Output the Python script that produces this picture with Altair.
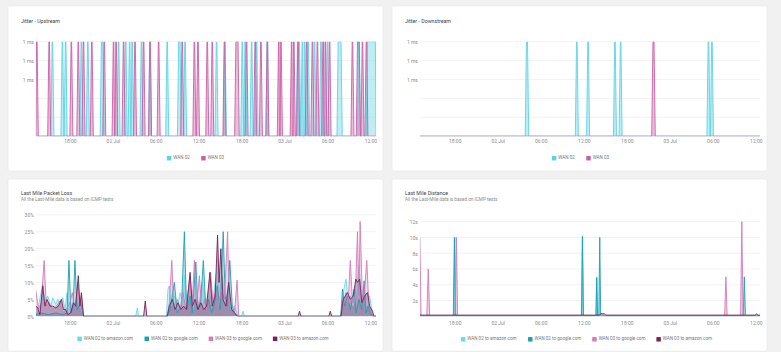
import altair as alt
import pandas as pd

BASE = pd.Timestamp("2024-07-01 00:00")

# ---------------- time axis (hours after 01 Jul 00:00) ----------------
LEFT_DOMAIN_H = [13.23, 60.8]
RIGHT_DOMAIN_H = [13.13, 60.6]
TIME_TICKS_H = [18, 24, 30, 36, 42, 48, 54, 60]

# ---------------- Jitter (ms) ----------------
JITTER_SERIES = ["WAN 02", "WAN 03"]
JITTER_COLORS = ["#5cd3e4", "#cb5ea7"]
JITTER_TICKS = [0, 0.2, 0.4, 0.6, 0.8, 1.0]
JITTER_PEAK_MS = 1.0
# spike times (hours); a tuple is a plateau (from, to)
UP_WAN02_SPIKES = [15.55, 16.95, 17.4, 19.6, 20.5, (22.4, 22.6), 24.8, 25.8, 26.35, 26.7,
                   28.0, 29.2, 31.6, (33.2, 33.4), 34.1, 38.5, 39.66, 42.1, 42.5, 43.4,
                   44.1, 45.6, (49.8, 50.1), 50.5, 50.8, 51.3, 52.2, 53.1, 54.0,
                   (55.5, 55.9), 58.4, (59.6, 60.7)]
UP_WAN03_SPIKES = [13.37, 15.1, 18.2, 19.17, 19.9, 21.06, 22.8, 24.1, 24.45, 25.5, 27.1,
                   28.3, 29.2, 30.4, 33.7, 35.4, 35.9, 37.2, 37.9, 39.6, (41.2, 41.5),
                   42.7, 43.9, 44.7, 45.6, 47.2, 47.5, 49.0, 49.3, 49.9, 51.1, 51.9,
                   52.6, 53.4, 53.7, 54.3, 57.5, (58.2, 58.45), 58.9, 59.45]
DOWN_WAN02_SPIKES = [(28.0, 28.15), 35.03, 36.6, 40.35, 41.14, (53.35, 53.45), 53.88]
DOWN_WAN03_SPIKES = [(45.65, 45.8)]
SPIKE_RAMP_H = 0.17
SPIKE_HALF_TOP_H = 0.04

# ---------------- Last mile ----------------
LAST_MILE_SERIES = ["WAN 02 to amazon.com", "WAN 02 to google.com",
                    "WAN 03 to google.com", "WAN 03 to amazon.com"]
LAST_MILE_COLORS = ["#6ad9e8", "#1aa0b1", "#d37ab7", "#7a1f55"]
SUBTITLE = "All the Last-Mile data is based on ICMP tests"

# packet loss (%), (hour, value)
LOSS_TICKS = [0, 5, 10, 15, 20, 25, 30]
LOSS_WAN02_AMAZON = [
    (13.23, 1), (13.6, 3), (14.2, 9.5), (14.5, 4), (14.9, 6), (15.3, 3), (15.6, 5.5),
    (16.0, 3.5), (16.3, 5), (16.7, 3), (17.0, 5.5), (17.3, 2), (17.6, 7), (18.0, 2),
    (18.4, 4), (18.8, 3), (19.2, 5), (19.6, 2), (19.9, 0), (27.2, 0), (27.42, 2.5),
    (27.6, 0), (31.5, 0), (31.7, 8), (31.9, 9), (32.2, 3), (32.6, 6), (33.0, 2),
    (33.4, 7), (33.8, 4), (34.0, 12), (34.4, 3), (34.8, 6), (35.2, 2), (35.6, 8),
    (36.0, 3), (36.5, 10), (37.0, 4), (37.5, 7), (38.0, 5), (38.73, 17), (38.9, 6),
    (39.3, 12), (39.7, 4), (40.1, 8), (40.5, 2), (41.0, 3), (41.5, 0), (42.0, 0),
    (42.2, 1.5), (42.4, 0), (55.8, 0), (56.1, 6), (56.6, 11), (56.9, 4), (57.2, 6),
    (57.6, 3), (58.0, 7), (58.4, 15), (58.8, 5), (59.1, 8), (59.5, 3), (59.9, 6),
    (60.3, 1), (60.5, 0), (60.8, 0)]
LOSS_WAN02_GOOGLE = [
    (13.23, 0.5), (14.0, 1), (15.0, 0.5), (16.0, 1), (17.0, 0.5), (17.6, 1), (17.86, 16.5),
    (18.15, 1), (18.45, 3), (18.7, 16.5), (19.0, 2), (19.5, 4), (19.9, 0), (31.6, 0),
    (32.0, 2), (32.6, 10), (33.0, 1), (33.6, 3), (34.0, 25), (34.3, 2), (34.8, 6),
    (35.1, 1), (35.6, 16), (35.9, 2), (36.3, 5), (36.65, 16.5), (37.0, 2), (37.4, 5),
    (37.8, 1), (38.2, 4), (38.6, 9), (39.0, 2), (39.43, 25), (39.7, 6), (40.0, 3),
    (40.35, 16.5), (40.7, 3), (41.0, 1), (41.5, 0), (55.9, 0), (56.1, 8), (56.4, 3),
    (56.8, 6), (57.2, 2), (57.74, 8), (58.0, 1), (58.4, 5), (58.8, 2), (59.13, 10.5),
    (59.4, 1), (59.7, 3), (60.0, 1), (60.3, 0), (60.8, 0)]
LOSS_WAN03_GOOGLE = [
    (13.23, 7.7), (13.6, 2), (14.0, 4), (14.39, 16.5), (14.7, 3), (15.1, 4), (15.6, 2),
    (16.1, 3), (16.6, 4.5), (17.0, 1), (17.5, 2), (18.0, 4), (18.33, 7), (18.7, 2),
    (19.1, 10), (19.4, 3), (19.6, 6), (19.9, 0), (31.6, 0), (31.9, 4), (32.24, 16.5),
    (32.5, 3), (33.0, 5), (33.4, 2), (33.8, 7), (34.2, 2), (34.79, 12), (35.1, 4),
    (35.4, 16.5), (35.7, 3), (36.1, 12), (36.4, 2), (36.8, 5), (37.1, 2), (37.66, 13),
    (38.0, 4), (38.4, 8), (38.8, 3), (39.2, 8), (39.6, 5), (40.04, 25), (40.3, 3),
    (40.7, 2), (41.0, 1), (41.37, 10.7), (41.6, 0), (55.8, 0), (56.2, 3), (56.6, 7),
    (56.9, 4), (57.2, 16.5), (57.5, 4), (57.9, 6), (58.2, 25), (58.4, 6), (58.57, 28),
    (58.9, 4), (59.2, 8), (59.5, 16.5), (59.8, 3), (60.1, 2), (60.4, 0), (60.8, 0)]
LOSS_WAN03_AMAZON = [
    (13.23, 3), (13.5, 2.5), (13.8, 0.5), (14.2, 9), (14.5, 3), (14.8, 5), (15.2, 3),
    (15.6, 3), (16.0, 2.5), (16.4, 3), (16.8, 5), (17.1, 2), (17.4, 2), (17.7, 0.5),
    (18.1, 1), (18.5, 4), (18.8, 3), (19.17, 12), (19.4, 3), (19.6, 7), (19.9, 0),
    (28.3, 0), (28.53, 4.5), (28.75, 0), (31.6, 0), (31.9, 3), (32.3, 5), (32.7, 2),
    (33.1, 4), (33.5, 2), (33.9, 3), (34.3, 2), (34.8, 13), (35.1, 3), (35.5, 5),
    (35.9, 2), (36.3, 4), (36.7, 2), (37.1, 3), (37.57, 13), (37.9, 3), (38.3, 6),
    (38.64, 24), (38.85, 10), (39.1, 20), (39.4, 5), (39.8, 3), (40.2, 10), (40.6, 2),
    (41.0, 1), (41.4, 0), (49.9, 0), (50.1, 1.5), (50.3, 0), (54.2, 0), (54.4, 1.5),
    (54.6, 0), (55.9, 0), (56.2, 5), (56.5, 6), (56.8, 7), (57.2, 5), (57.6, 6),
    (57.97, 11), (58.2, 10), (58.5, 11), (58.8, 4), (59.2, 6), (59.6, 7), (59.9, 3),
    (60.3, 1.5), (60.5, 0), (60.8, 0)]

# distance (s), (hour, value)
DIST_TICKS = [0, 2, 4, 6, 8, 10, 12]
DIST_TOP_S = 12.875
DIST_WAN02_AMAZON = [
    (13.13, 0.05), (17.85, 0.05), (18.0, 10), (18.15, 0.05), (35.65, 0.05), (35.8, 10.2),
    (35.97, 0.05), (37.68, 0.05), (37.8, 5), (37.93, 0.05), (38.3, 0.3), (38.6, 0.05),
    (60.6, 0.05)]
DIST_WAN02_GOOGLE = [
    (13.13, 0.08), (17.8, 0.08), (17.95, 10), (18.1, 0.08), (35.68, 0.08), (35.82, 10.1),
    (35.95, 0.08), (37.7, 0.08), (37.81, 4.9), (37.92, 0.08), (38.1, 0.08), (38.23, 10),
    (38.36, 0.08), (58.25, 0.08), (58.4, 5), (58.55, 0.08), (60.6, 0.08)]
DIST_WAN03_GOOGLE = [
    (13.13, 10), (13.3, 0.1), (14.1, 0.1), (14.3, 6), (14.5, 0.1), (18.05, 0.1),
    (18.23, 10), (18.4, 0.1), (55.65, 0.1), (55.83, 5), (56.0, 0.1), (57.88, 0.1),
    (58.05, 12), (58.22, 0.1), (60.6, 0.1)]
DIST_WAN03_AMAZON = [
    (13.13, 0.15), (38.2, 0.15), (38.4, 0.35), (38.9, 0.3), (39.1, 0.15), (59.9, 0.15),
    (60.1, 0.3), (60.3, 0.15), (60.6, 0.15)]

# ---------------- helpers ----------------
def ts(h):
    return BASE + pd.Timedelta(hours=h)


def dt(h):
    t = ts(h)
    return alt.DateTime(year=t.year, month=t.month, date=t.day,
                        hours=t.hour, minutes=t.minute, seconds=t.second)


def spike_points(spikes, dom):
    pts = [(dom[0], 0.0), (dom[1], 0.0)]
    for s in spikes:
        if isinstance(s, tuple):
            a, b = s
        else:
            a, b = s - SPIKE_HALF_TOP_H, s + SPIKE_HALF_TOP_H
        pts += [(a - SPIKE_RAMP_H, 0.0), (a, JITTER_PEAK_MS), (b, JITTER_PEAK_MS),
                (b + SPIKE_RAMP_H, 0.0)]
    return sorted(pts)


def frame(named_points):
    rows = []
    for name, pts in named_points:
        for h, v in pts:
            rows.append({"time": ts(h), "series": name, "value": v})
    return pd.DataFrame(rows)


TIME_LABEL_EXPR = ("hours(datum.value) == 0 ? timeFormat(datum.value, '%d %b') "
                   ": timeFormat(datum.value, '%H:%M')")
W = 342
GRID_COLOR = "#eeeeee"
FONT = "Roboto"


def panel(df, series, colors, dom_h, ticks, y_dom, y_expr, h, title, subtitle,
          lx, ly, fill_op, x_pad):
    x = alt.X("time:T", scale=alt.Scale(domain=[dt(dom_h[0]), dt(dom_h[1])]),
              axis=alt.Axis(values=[dt(t) for t in TIME_TICKS_H], labelExpr=TIME_LABEL_EXPR,
                            grid=False, domain=False, ticks=False, labelPadding=x_pad,
                            labelFlush=False, zindex=1, title=None))
    y_scale = alt.Scale(domain=y_dom)
    y_axis = alt.Axis(values=ticks, labelExpr=y_expr, grid=False, domain=False,
                      ticks=False, labelPadding=2.5, zindex=1, title=None)
    y = alt.Y("value:Q", stack=None, scale=y_scale, axis=y_axis)
    cscale = alt.Scale(domain=series, range=colors)
    one = pd.DataFrame({"k": [0]})
    card = alt.Chart(one).mark_rect(
        fill="white", stroke="#e6e6e6", strokeWidth=0.6, cornerRadius=2
    ).encode(x=alt.value(-28), x2=alt.value(W + 7), y=alt.value(-36), y2=alt.value(h + 35))
    grid = alt.Chart(pd.DataFrame({"value": ticks})).mark_rule(
        color=GRID_COLOR, strokeWidth=0.8
    ).encode(y=alt.Y("value:Q", scale=y_scale, axis=y_axis))
    area = alt.Chart(df).mark_area(opacity=fill_op, clip=True).encode(
        x=x, y=y,
        color=alt.Color("series:N", scale=cscale,
                        legend=alt.Legend(orient="none", legendX=lx, legendY=ly,
                                          direction="horizontal", title=None,
                                          symbolType="square", symbolOpacity=1,
                                          symbolStrokeWidth=0)))
    line = alt.Chart(df).mark_line(strokeWidth=0.9, clip=True).encode(
        x=x, y=y, color=alt.Color("series:N", scale=cscale, legend=None))
    layers = [card, grid, area, line]
    title_y = -21 if subtitle is None else -22
    layers.append(alt.Chart(one).mark_text(
        align="left", baseline="middle", font=FONT, fontSize=5.3, color="#444444"
    ).encode(x=alt.value(-15), y=alt.value(title_y), text=alt.value(title)))
    if subtitle:
        layers.append(alt.Chart(one).mark_text(
            align="left", baseline="middle", font=FONT, fontSize=4.7, color="#8a8a8a"
        ).encode(x=alt.value(-15), y=alt.value(-14.5), text=alt.value(subtitle)))
    return alt.layer(*layers).properties(width=W, height=h)


JITTER_EXPR = "datum.value >= 0.5 ? '1 ms' : ''"
LOSS_EXPR = "datum.value + '%'"
DIST_EXPR = "datum.value == 0 ? '' : datum.value + 's'"

up_df = frame([("WAN 02", spike_points(UP_WAN02_SPIKES, LEFT_DOMAIN_H)),
               ("WAN 03", spike_points(UP_WAN03_SPIKES, LEFT_DOMAIN_H))])
down_df = frame([("WAN 02", spike_points(DOWN_WAN02_SPIKES, RIGHT_DOMAIN_H)),
                 ("WAN 03", spike_points(DOWN_WAN03_SPIKES, RIGHT_DOMAIN_H))])
loss_df = frame(list(zip(LAST_MILE_SERIES, [LOSS_WAN02_AMAZON, LOSS_WAN02_GOOGLE,
                                            LOSS_WAN03_GOOGLE, LOSS_WAN03_AMAZON])))
dist_df = frame(list(zip(LAST_MILE_SERIES, [DIST_WAN02_AMAZON, DIST_WAN02_GOOGLE,
                                            DIST_WAN03_GOOGLE, DIST_WAN03_AMAZON])))

p1 = panel(up_df, JITTER_SERIES, JITTER_COLORS, LEFT_DOMAIN_H, JITTER_TICKS, [0, 1],
           JITTER_EXPR, 95, "Jitter - Upstream", None, 131.5, 114.5, 0.4, 2.5)
p2 = panel(down_df, JITTER_SERIES, JITTER_COLORS, RIGHT_DOMAIN_H, JITTER_TICKS, [0, 1],
           JITTER_EXPR, 95, "Jitter - Downstream", None, 132.5, 114.5, 0.4, 2.5)
p3 = panel(loss_df, LAST_MILE_SERIES, LAST_MILE_COLORS, LEFT_DOMAIN_H, LOSS_TICKS, [0, 30],
           LOSS_EXPR, 102, "Last Mile Packet Loss", SUBTITLE, 41.5, 122, 0.3, 4)
p4 = panel(dist_df, LAST_MILE_SERIES, LAST_MILE_COLORS, RIGHT_DOMAIN_H, DIST_TICKS,
           [0, DIST_TOP_S], DIST_EXPR, 102, "Last Mile Distance", SUBTITLE, 41, 122.5,
           0.35, 4)

top = alt.hconcat(p1, p2, spacing=7).resolve_scale(color="independent", x="independent",
                                                    y="independent")
bottom = alt.hconcat(p3, p4, spacing=7).resolve_scale(color="independent", x="independent",
                                                       y="independent")
chart = alt.vconcat(top, bottom, spacing=6).resolve_scale(
    color="independent", x="independent", y="independent"
).properties(
    padding={"left": 7, "top": 4, "right": 13, "bottom": 3},
    background="#f1f1f1",
).configure_view(stroke=None).configure_axis(
    labelFont=FONT, labelFontSize=5, labelColor="#8c8c8c"
).configure_legend(
    labelFont=FONT, labelFontSize=4.6, labelColor="#777777", symbolSize=20,
    labelOffset=1.7, columnPadding=10.5, padding=0,
)

chart.save("out.html", embed_options={"renderer": "svg", "actions": False})
